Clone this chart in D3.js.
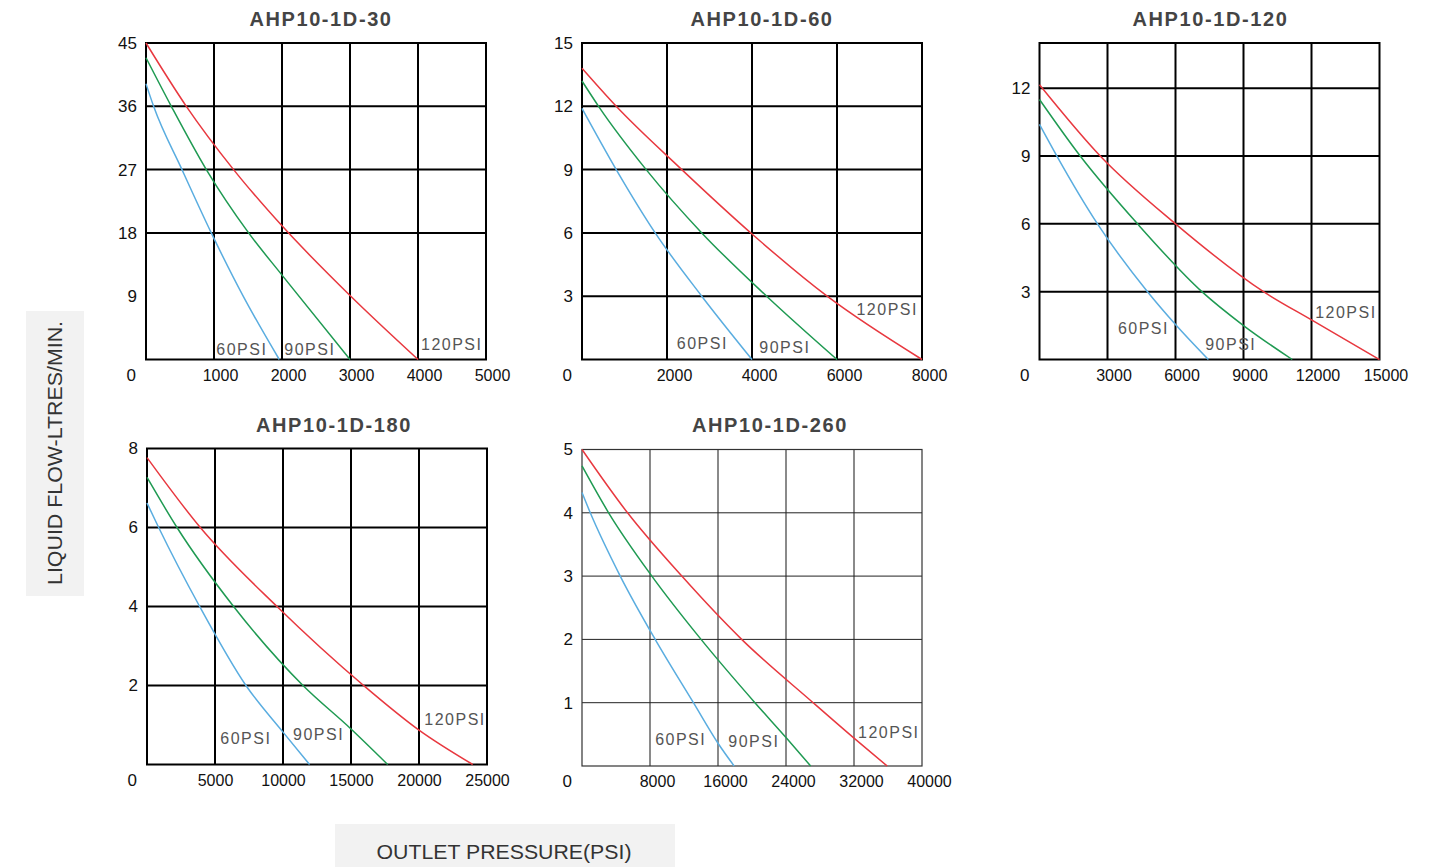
<!DOCTYPE html>
<html><head><meta charset="utf-8">
<script src="https://cdn.jsdelivr.net/npm/d3@7"></script>
<style>
html,body{margin:0;padding:0;background:#fff;}
svg{display:block;font-family:Arial,"Liberation Sans",sans-serif;}
</style></head><body>
<svg id="chart" width="1440" height="867"></svg>
<script>
// ---------------- DATA ----------------
const titles = ["AHP10-1D-30", "AHP10-1D-60", "AHP10-1D-120", "AHP10-1D-180", "AHP10-1D-260"];
const seriesNames = ["60PSI", "90PSI", "120PSI"];
const xMax = [5000, 8000, 15000, 25000, 40000];
const yMax = [45, 15, 14, 8, 5];
const xTicks = [
  [1000, 2000, 3000, 4000, 5000],
  [2000, 4000, 6000, 8000],
  [3000, 6000, 9000, 12000, 15000],
  [5000, 10000, 15000, 20000, 25000],
  [8000, 16000, 24000, 32000, 40000]
];
const yTicks = [
  [9, 18, 27, 36, 45],
  [3, 6, 9, 12, 15],
  [3, 6, 9, 12],
  [2, 4, 6, 8],
  [1, 2, 3, 4, 5]
];
const yGrid = [
  [18, 27, 36],
  [3, 6, 9, 12],
  [3, 6, 9, 12],
  [2, 4, 6],
  [1, 2, 3, 4]
];

// curves: [outlet pressure, liquid flow]
const ahp30_60psi  = [[0,39.2],[112,36],[529,27],[960,18],[1435,8.9],[1960,0]];
const ahp30_90psi  = [[0,42.9],[372,36],[887,27],[1509,18],[2000,12],[3000,0]];
const ahp30_120psi = [[0,45],[593,36],[1288,27],[2000,19],[3000,9.1],[4000,0]];

const ahp60_60psi  = [[0,11.9],[805,9],[1722,6],[2818,3],[4000,0]];
const ahp60_90psi  = [[0,13.2],[390,12],[1510,9],[2818,6],[4345,3],[6000,0]];
const ahp60_120psi = [[0,13.8],[805,12],[2348,9],[4000,5.95],[5768,3],[8000,0]];

const ahp120_60psi  = [[0,10.4],[767,9],[2559,6],[4765,3],[6000,1.55],[7450,0]];
const ahp120_90psi  = [[0,11.5],[1797,9],[4323,6],[7163,3],[9000,1.5],[11150,0]];
const ahp120_120psi = [[0,12.15],[2678,9],[6000,6],[9882,3],[12000,1.75],[15000,0]];

const ahp180_60psi  = [[0,6.62],[858,6],[3873,4],[7275,2],[10000,0.82],[11950,0]];
const ahp180_90psi  = [[0,7.27],[2206,6],[6368,4],[11470,2],[15000,0.9],[17700,0]];
const ahp180_120psi = [[0,7.77],[3919,6],[9559,4],[15928,2],[20000,0.87],[23950,0]];

const ahp260_60psi  = [[0,4.32],[975,4],[4497,3],[8608,2],[13107,1],[16000,0.36],[17900,0]];
const ahp260_90psi  = [[0,4.74],[3130,4],[8217,3],[14006,2],[20345,1],[24000,0.45],[26900,0]];
const ahp260_120psi = [[0,5],[5357,4],[11740,3],[18785,2],[27190,1],[32000,0.44],[35900,0]];

const panelSeries = [
  [ahp30_60psi, ahp30_90psi, ahp30_120psi],
  [ahp60_60psi, ahp60_90psi, ahp60_120psi],
  [ahp120_60psi, ahp120_90psi, ahp120_120psi],
  [ahp180_60psi, ahp180_90psi, ahp180_120psi],
  [ahp260_60psi, ahp260_90psi, ahp260_120psi]
];

// curve label anchors in data units (start of text, baseline)
const psiLabelAt = [
  [[1034,0.7],[2034,0.7],[4044,1.42]],
  [[2231,0.52],[4171,0.31],[6458,2.1]],
  [[3458,1.15],[7309,0.41],[12161,1.84]],
  [[5390,0.51],[10735,0.62],[20390,0.99]],
  [[8605,0.33],[17211,0.30],[32473,0.45]]
];

// ---------------- LAYOUT / STYLE ----------------
const layout = [
  {left: 146,    top: 43,    w: 340, h: 316.5, titleDx: 5,  titleY: 26,    xLabelDx: 6},
  {left: 582,    top: 43,    w: 340, h: 316.5, titleDx: 10, titleY: 26,    xLabelDx: 7},
  {left: 1039.5, top: 43,    w: 340, h: 316.5, titleDx: 1,  titleY: 26,    xLabelDx: 6},
  {left: 147,    top: 448.5, w: 340, h: 316,   titleDx: 17, titleY: 431.5, xLabelDx: 0},
  {left: 582,    top: 449.5, w: 340, h: 316.5, titleDx: 18, titleY: 431.5, xLabelDx: 7}
];
const colors = ["#5aade0", "#1f9a52", "#e8383f"];

const svg = d3.select("#chart");

// axis title boxes
svg.append("rect").attr("x", 26).attr("y", 311).attr("width", 58).attr("height", 285).attr("fill", "#f2f2f2");
svg.append("text")
  .attr("transform", "translate(62,453) rotate(-90)")
  .attr("text-anchor", "middle")
  .attr("font-size", 20).attr("fill", "#333")
  .attr("textLength", 264).attr("lengthAdjust", "spacingAndGlyphs")
  .text("LIQUID FLOW-LTRES/MIN.");
svg.append("rect").attr("x", 335).attr("y", 824).attr("width", 340).attr("height", 43).attr("fill", "#f2f2f2");
svg.append("text")
  .attr("x", 504).attr("y", 859)
  .attr("text-anchor", "middle")
  .attr("font-size", 20).attr("fill", "#333")
  .attr("textLength", 255).attr("lengthAdjust", "spacingAndGlyphs")
  .text("OUTLET PRESSURE(PSI)");

titles.forEach((title, i) => {
  const L = layout[i];
  const x = d3.scaleLinear().domain([0, xMax[i]]).range([0, L.w]);
  const y = d3.scaleLinear().domain([0, yMax[i]]).range([L.h, 0]);
  const g = svg.append("g").attr("transform", `translate(${L.left},${L.top})`);
  const thin = (i === 4);

  // title
  g.append("text")
    .attr("x", L.w / 2 + L.titleDx).attr("y", L.titleY - L.top)
    .attr("text-anchor", "middle")
    .attr("font-size", 20).attr("font-weight", "bold").attr("fill", "#444")
    .attr("letter-spacing", 1.6)
    .text(title);

  // grid: vertical
  g.append("g").selectAll("line").data(xTicks[i].filter(v => v < xMax[i])).join("line")
    .attr("x1", d => x(d)).attr("x2", d => x(d))
    .attr("y1", 0).attr("y2", L.h)
    .attr("stroke", thin ? "#8a8a8a" : "#000")
    .attr("stroke-width", 2);
  // grid: horizontal
  g.append("g").selectAll("line").data(yGrid[i]).join("line")
    .attr("x1", 0).attr("x2", L.w)
    .attr("y1", d => y(d)).attr("y2", d => y(d))
    .attr("stroke", thin ? "#222" : "#000")
    .attr("stroke-width", thin ? 1 : 2);
  // border
  g.append("rect").attr("x", 0).attr("y", 0).attr("width", L.w).attr("height", L.h)
    .attr("fill", "none")
    .attr("stroke", thin ? "#333" : "#000")
    .attr("stroke-width", thin ? 1.2 : 2);

  // curves
  const line = d3.line().x(d => x(d[0])).y(d => y(d[1])).curve(d3.curveMonotoneX);
  panelSeries[i].forEach((s, k) => {
    g.append("path").datum(s)
      .attr("d", line)
      .attr("fill", "none")
      .attr("stroke", colors[k])
      .attr("stroke-width", 1.5);
  });

  // curve labels
  psiLabelAt[i].forEach((p, k) => {
    g.append("text")
      .attr("x", x(p[0])).attr("y", y(p[1]))
      .attr("font-size", 16).attr("fill", "#555")
      .attr("letter-spacing", 1.5)
      .text(seriesNames[k]);
  });

  // axes
  const xa = g.append("g").attr("transform", `translate(0,${L.h})`)
    .call(d3.axisBottom(x).tickValues(xTicks[i]).tickSize(0).tickPadding(10).tickFormat(d3.format("d")));
  xa.select(".domain").remove();
  xa.selectAll("text").attr("dx", L.xLabelDx).attr("font-size", 16).attr("fill", "#111")
    .attr("font-family", "Arial, 'Liberation Sans', sans-serif");

  const ya = g.append("g")
    .call(d3.axisLeft(y).tickValues(yTicks[i]).tickSize(0).tickPadding(9).tickFormat(d3.format("d")));
  ya.select(".domain").remove();
  ya.selectAll("text").attr("font-size", 17).attr("fill", "#111")
    .attr("font-family", "Arial, 'Liberation Sans', sans-serif");

  // origin label
  g.append("text")
    .attr("x", -10).attr("y", L.h + 21)
    .attr("text-anchor", "end")
    .attr("font-size", 17).attr("fill", "#111")
    .text("0");
});
</script>
</body></html>
